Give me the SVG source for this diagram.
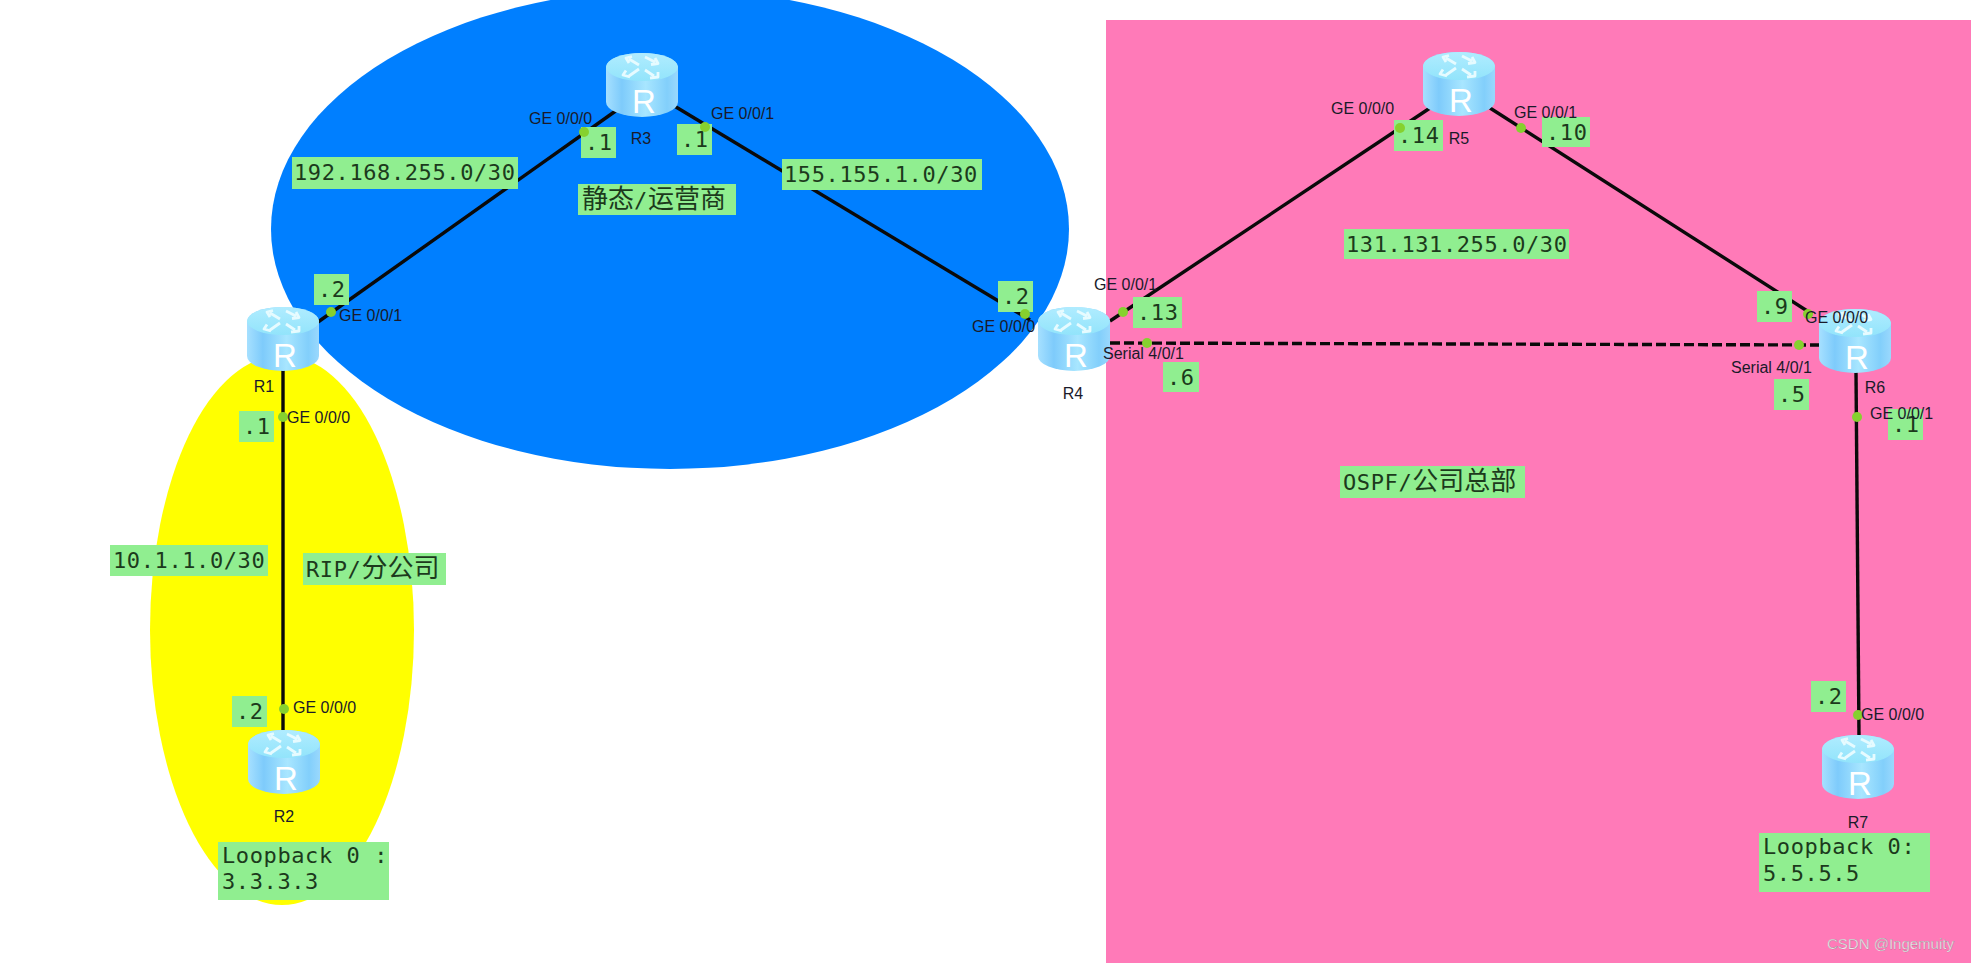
<svg xmlns="http://www.w3.org/2000/svg" width="1971" height="963" viewBox="0 0 1971 963">
<style>
.box{fill:#90ee90}
.m{font-family:"DejaVu Sans Mono","Noto Sans CJK SC",monospace;font-size:22px;fill:#1c3a1c;letter-spacing:.6px}
.c{font-family:"Noto Sans CJK SC","DejaVu Sans",sans-serif;font-size:26px;letter-spacing:0}
.s{font-family:"Liberation Sans",Arial,sans-serif;font-size:16px;fill:#1a1a2a}
.n{font-family:"Liberation Sans",Arial,sans-serif;font-size:16px;fill:#1a1a2a;text-anchor:middle}
.r{font-family:"Liberation Sans",Arial,sans-serif;font-size:33px;fill:#fff;text-anchor:middle}
.l{stroke:#0a0a0a;stroke-width:3.4;fill:none;stroke-linecap:butt}
.d{fill:#86d12f}
</style>
<defs>
<linearGradient id="body" x1="0" y1="0" x2="1" y2="0">
<stop offset="0" stop-color="#a6e0ff"/><stop offset=".22" stop-color="#7ecbfb"/><stop offset=".55" stop-color="#a8e6ff"/><stop offset=".85" stop-color="#82cffb"/><stop offset="1" stop-color="#9ad8fd"/>
</linearGradient>
<linearGradient id="top" x1="0" y1="0" x2="0" y2="1">
<stop offset="0" stop-color="#b0ecff"/><stop offset="1" stop-color="#92e4fb"/>
</linearGradient>
<symbol id="router" viewBox="0 0 72 64" width="72" height="64" overflow="visible">
<path d="M0 14A36 14 0 0 1 72 14V49A36 15 0 0 1 0 49Z" fill="url(#body)"/>
<ellipse cx="36" cy="14" rx="36" ry="14" fill="url(#top)"/>
<g stroke="#e6fbff" stroke-width="2.8" fill="none" stroke-linejoin="round">
<path d="M33 12L23 6M26 3.500L20 5L23 10"/>
<path d="M39 4L49 9M45 11.500L52 10.500L49 5"/>
<path d="M33 16L23 23M20 17.500L17 22L24 24"/>
<path d="M39 17L48 23M44 25L52 24L52 19"/>
</g>
</symbol>
</defs>
<rect width="1971" height="963" fill="#fff"/>
<g id="zones">
<ellipse cx="670" cy="229" rx="399" ry="240" fill="#007fff"/>
<ellipse cx="282" cy="630" rx="132" ry="275" fill="#ffff00"/>
<rect x="1106" y="20" width="865" height="943" fill="#ff7ab8"/>
</g>
<g id="connectors">
<path class="l" d="M318 322L617 110"/>
<path class="l" d="M671 104L1030 320"/>
<path class="l" d="M1110 321L1430 108"/>
<path class="l" d="M1490 108L1812 314"/>
<path class="l" d="M1110 343L1820 345" stroke-dasharray="10 4"/>
<path class="l" d="M283 370V730"/>
<path class="l" d="M1856 372L1859 736"/>
</g>
<g id="R1"><use href="#router" x="247" y="307"/><text class="r" x="285" y="367">R</text><text class="n" x="264" y="392">R1</text></g>
<g id="R2"><use href="#router" x="248" y="730"/><text class="r" x="286" y="790">R</text><text class="n" x="284" y="822">R2</text></g>
<g id="R3"><use href="#router" x="606" y="53"/><text class="r" x="644" y="113">R</text><text class="n" x="641" y="144">R3</text></g>
<g id="R4"><use href="#router" x="1038" y="307"/><text class="r" x="1076" y="367">R</text><text class="n" x="1073" y="399">R4</text></g>
<g id="R5"><use href="#router" x="1423" y="52"/><text class="r" x="1461" y="112">R</text><text class="n" x="1459" y="144">R5</text></g>
<g id="R6"><use href="#router" x="1819" y="309"/><text class="r" x="1857" y="369">R</text><text class="n" x="1875" y="393">R6</text></g>
<g id="R7"><use href="#router" x="1822" y="735"/><text class="r" x="1860" y="795">R</text><text class="n" x="1858" y="828">R7</text></g>
<g id="labels">
<rect class="box" x="292" y="157" width="226" height="32"/><text class="m" x="294" y="180">192.168.255.0/30</text>
<rect class="box" x="782" y="159" width="200" height="31"/><text class="m" x="784" y="182">155.155.1.0/30</text>
<rect class="box" x="1344" y="229" width="225" height="30"/><text class="m" x="1346" y="252">131.131.255.0/30</text>
<rect class="box" x="110" y="545" width="158" height="31"/><text class="m" x="113" y="568">10.1.1.0/30</text>
<rect class="box" x="578" y="184" width="158" height="31"/><text class="m" x="582" y="208"><tspan class="c">静态</tspan>/<tspan class="c">运营商</tspan></text>
<rect class="box" x="303" y="553" width="143" height="32"/><text class="m" x="306" y="577">RIP/<tspan class="c">分公司</tspan></text>
<rect class="box" x="1340" y="466" width="185" height="32"/><text class="m" x="1343" y="490">OSPF/<tspan class="c">公司总部</tspan></text>
<rect class="box" x="314" y="274" width="35" height="31"/><text class="m" x="318" y="297">.2</text>
<rect class="box" x="239" y="411" width="35" height="31"/><text class="m" x="243" y="434">.1</text>
<rect class="box" x="581" y="127" width="35" height="31"/><text class="m" x="585" y="150">.1</text>
<rect class="box" x="677" y="124" width="35" height="31"/><text class="m" x="681" y="147">.1</text>
<rect class="box" x="998" y="281" width="35" height="31"/><text class="m" x="1002" y="304">.2</text>
<rect class="box" x="1133" y="297" width="49" height="31"/><text class="m" x="1137" y="320">.13</text>
<rect class="box" x="1163" y="362" width="36" height="30"/><text class="m" x="1167" y="385">.6</text>
<rect class="box" x="1394" y="120" width="49" height="31"/><text class="m" x="1398" y="143">.14</text>
<rect class="box" x="1542" y="117" width="48" height="30"/><text class="m" x="1546" y="140">.10</text>
<rect class="box" x="1757" y="291" width="35" height="31"/><text class="m" x="1761" y="314">.9</text>
<rect class="box" x="1774" y="379" width="35" height="31"/><text class="m" x="1778" y="402">.5</text>
<rect class="box" x="1888" y="409" width="35" height="31"/><text class="m" x="1892" y="432">.1</text>
<rect class="box" x="1811" y="681" width="35" height="31"/><text class="m" x="1815" y="704">.2</text>
<rect class="box" x="232" y="696" width="35" height="31"/><text class="m" x="236" y="719">.2</text>
<rect class="box" x="218" y="842" width="171" height="58"/><text class="m" x="222" y="863">Loopback 0 :</text><text class="m" x="222" y="889">3.3.3.3</text>
<rect class="box" x="1759" y="833" width="171" height="59"/><text class="m" x="1763" y="854">Loopback 0:</text><text class="m" x="1763" y="881">5.5.5.5</text>
</g>
<g id="ports">
<circle class="d" cx="331" cy="312" r="5"/><circle class="d" cx="283" cy="417" r="5"/><circle class="d" cx="584" cy="132" r="5"/><circle class="d" cx="705" cy="127" r="5"/><circle class="d" cx="1025" cy="314" r="5"/><circle class="d" cx="1123" cy="312" r="5"/><circle class="d" cx="1147" cy="343" r="5"/><circle class="d" cx="1400" cy="128" r="5"/><circle class="d" cx="1521" cy="128" r="5"/><circle class="d" cx="1808" cy="314" r="5"/><circle class="d" cx="1799" cy="345" r="5"/><circle class="d" cx="1857" cy="417" r="5"/><circle class="d" cx="284" cy="709" r="5"/><circle class="d" cx="1858" cy="715" r="5"/>
<text class="s" x="339" y="321">GE 0/0/1</text>
<text class="s" x="287" y="423">GE 0/0/0</text>
<text class="s" x="529" y="124">GE 0/0/0</text>
<text class="s" x="711" y="119">GE 0/0/1</text>
<text class="s" x="972" y="332">GE 0/0/0</text>
<text class="s" x="1094" y="290">GE 0/0/1</text>
<text class="s" x="1103" y="359">Serial 4/0/1</text>
<text class="s" x="1331" y="114">GE 0/0/0</text>
<text class="s" x="1514" y="118">GE 0/0/1</text>
<text class="s" x="1805" y="323">GE 0/0/0</text>
<text class="s" x="1731" y="373">Serial 4/0/1</text>
<text class="s" x="1870" y="419">GE 0/0/1</text>
<text class="s" x="293" y="713">GE 0/0/0</text>
<text class="s" x="1861" y="720">GE 0/0/0</text>
</g>
<text id="watermark" x="1827" y="949" font-family="'Liberation Sans',Arial,sans-serif" font-size="15px" fill="#f4e6ee" stroke="#777" stroke-width=".25">CSDN @Ingemuity</text>
</svg>
